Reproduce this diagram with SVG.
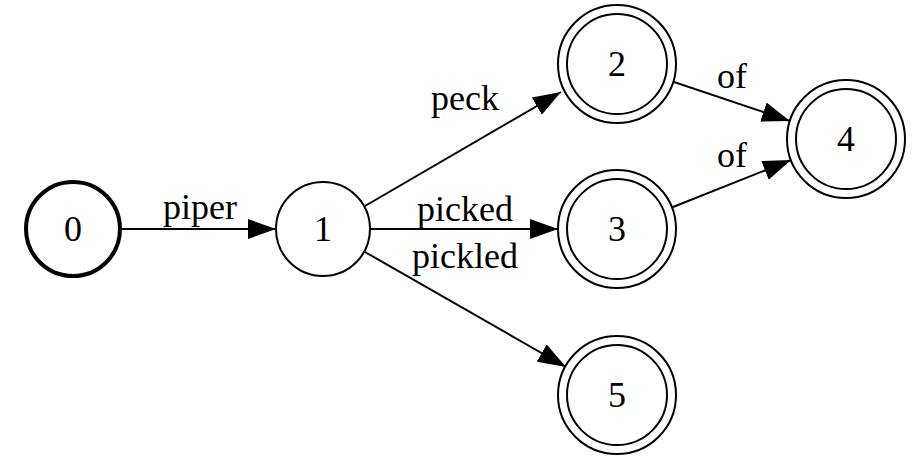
<svg xmlns="http://www.w3.org/2000/svg" width="920" height="476" viewBox="0 0 920 476">
  <style>
    .st { fill: #ffffff; stroke: #000000; stroke-width: 2; }
    .start { fill: #ffffff; stroke: #000000; stroke-width: 4; }
    .ring { fill: none; stroke: #000000; stroke-width: 2; }
    .edge { fill: none; stroke: #000000; stroke-width: 2; marker-end: url(#arrow); }
    text { font-family: "Liberation Serif", "Times New Roman", serif; font-size: 36px; fill: #000000; text-anchor: middle; }
  </style>
  <defs>
    <marker id="arrow" markerUnits="userSpaceOnUse" markerWidth="30" markerHeight="22" refX="28" refY="10" orient="auto">
      <path d="M0,0 L28,10 L0,20 z" fill="#000000"/>
    </marker>
  </defs>
  <rect width="920" height="476" fill="#ffffff"/>

  <g id="edges">
    <line class="edge" x1="122" y1="229" x2="276" y2="229"/>
    <text x="200" y="219">piper</text>
    <line class="edge" x1="365" y1="206" x2="561" y2="92"/>
    <text x="465" y="110">peck</text>
    <line class="edge" x1="370" y1="229" x2="558" y2="229"/>
    <text x="465" y="221">picked</text>
    <line class="edge" x1="365" y1="252" x2="566" y2="367"/>
    <text x="465" y="268">pickled</text>
    <line class="edge" x1="674" y1="82" x2="790" y2="121"/>
    <text x="732" y="88">of</text>
    <line class="edge" x1="673" y1="207" x2="791" y2="160"/>
    <text x="732" y="167">of</text>
  </g>

  <g id="node0">
    <circle class="start" cx="73" cy="229" r="47"/>
    <text x="73" y="241">0</text>
  </g>
  <g id="node1">
    <circle class="st" cx="323" cy="229" r="47"/>
    <text x="323" y="241">1</text>
  </g>
  <g id="node2">
    <circle class="st" cx="617" cy="64" r="59"/>
    <circle class="ring" cx="617" cy="64" r="50"/>
    <text x="617" y="76">2</text>
  </g>
  <g id="node3">
    <circle class="st" cx="617" cy="229" r="59"/>
    <circle class="ring" cx="617" cy="229" r="50"/>
    <text x="617" y="241">3</text>
  </g>
  <g id="node4">
    <circle class="st" cx="846" cy="139" r="59"/>
    <circle class="ring" cx="846" cy="139" r="50"/>
    <text x="846" y="151">4</text>
  </g>
  <g id="node5">
    <circle class="st" cx="617" cy="395" r="59"/>
    <circle class="ring" cx="617" cy="395" r="50"/>
    <text x="617" y="407">5</text>
  </g>
</svg>
